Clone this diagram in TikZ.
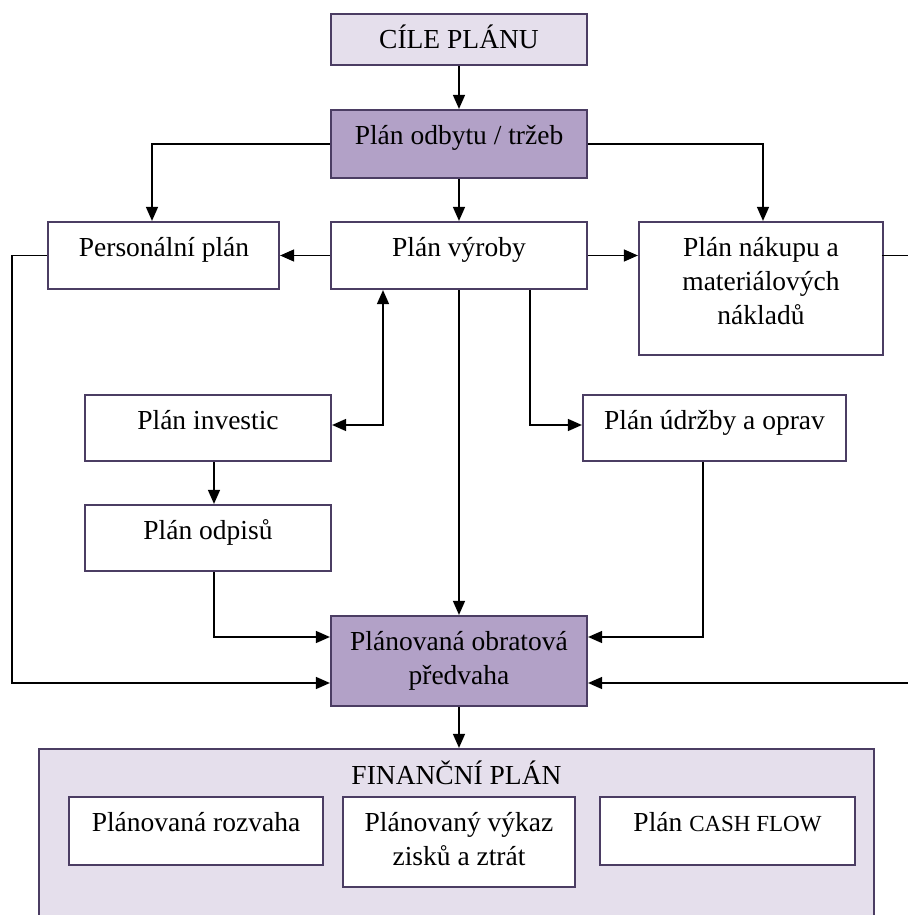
\documentclass[tikz,border=0pt]{standalone}
\usepackage{fontspec}
\setmainfont{Liberation Serif}
\usetikzlibrary{arrows.meta}
\definecolor{lightlav}{HTML}{E5DFEC}
\definecolor{darklav}{HTML}{B2A1C7}
\definecolor{boxline}{HTML}{4B3D63}
\begin{document}
\begin{tikzpicture}[x=1pt,y=-1pt,
  box/.style={draw=boxline, line width=2.2pt, rectangle, inner sep=0pt, fill=white},
  lbl/.style={anchor=base, align=center, inner sep=0pt, font=\fontsize{27.5}{34}\selectfont},
  conn/.style={line width=1.4pt, -{Triangle[length=14pt,width=12pt]}},
  both/.style={line width=1.4pt, {Triangle[length=14pt,width=12pt]}-{Triangle[length=14pt,width=12pt]}}]
\useasboundingbox (0,0) rectangle (907,915);

% boxes
\node[box, fill=lightlav, minimum width=256, minimum height=51] (goal) at (459,39.5) {};
\node[box, fill=darklav, minimum width=256, minimum height=68] (sales) at (459,144) {};
\node[box, minimum width=231, minimum height=67] (staff) at (163.5,255.5) {};
\node[box, minimum width=256, minimum height=67] (prod) at (459,255.5) {};
\node[box, minimum width=244, minimum height=133] (purch) at (761,288.5) {};
\node[box, minimum width=246, minimum height=66] (invest) at (208,428) {};
\node[box, minimum width=246, minimum height=66] (depr) at (208,538) {};
\node[box, minimum width=263, minimum height=66] (maint) at (714.5,428) {};
\node[box, fill=darklav, minimum width=256, minimum height=90] (wc) at (459,661) {};
\node[box, fill=lightlav, minimum width=835, minimum height=176] (fin) at (456.5,837) {};
\node[box, minimum width=254, minimum height=68] (bal) at (196,831) {};
\node[box, minimum width=232, minimum height=90] (pl) at (459,842) {};
\node[box, minimum width=255, minimum height=68] (cf) at (727.5,831) {};

% texts (base anchor sits on the last line)
\node[lbl] (goalT) at (459,48.5) {CÍLE PLÁNU};
\node[lbl] (salesT) at (459,144.5) {Plán odbytu / tržeb};
\node[lbl] (staffT) at (164,256.5) {Personální plán};
\node[lbl] (prodT) at (459,256.5) {Plán výroby};
\node[lbl] (purchT) at (761,324.5) {Plán nákupu a\\materiálových\\nákladů};
\node[lbl] (investT) at (208,429.5) {Plán investic};
\node[lbl] (deprT) at (208,539.5) {Plán odpisů};
\node[lbl] (maintT) at (714.5,429.5) {Plán údržby a oprav};
\node[lbl] (wcT) at (459,684.5) {Plánovaná obratová\\předvaha};
\node[lbl] (finT) at (456.5,784.5) {FINANČNÍ PLÁN};
\node[lbl] (balT) at (196,831.5) {Plánovaná rozvaha};
\node[lbl] (plT) at (459,865.5) {Plánovaný výkaz\\zisků a ztrát};
\node[lbl] (cfT) at (727.5,831.5) {Plán {\fontsize{23}{34}\selectfont CASH FLOW}};

% bus lines and entry points
\coordinate (leftbus) at (12,0);
\coordinate (rightbus) at (914,0);
\coordinate (wcWhigh) at ([yshift=24pt]wc.west);
\coordinate (wcWlow) at ([yshift=-22pt]wc.west);
\coordinate (wcEhigh) at ([yshift=24pt]wc.east);
\coordinate (wcElow) at ([yshift=-22pt]wc.east);

% connectors
\draw[conn] (goal) -- (sales);
\draw[conn] (sales.west) -| ([xshift=-11.5pt]staff.north);
\draw[conn] (sales.east) -| ([xshift=2pt]purch.north);
\draw[conn] (sales) -- (prod);
\draw[conn] (prod.west) -- (staff.east);
\draw[conn] (prod.east) -- (prod.east -| purch.west);
\draw[conn] (purch.west |- prod.east) ++(244,0) -| (rightbus |- wcElow) -- (wcElow);
\draw[conn] (staff.west) -| (leftbus |- wcWlow) -- (wcWlow);
\draw[both] ([xshift=-76pt]prod.south) |- ([yshift=3pt]invest.east);
\draw[conn] ([xshift=71pt]prod.south) |- ([yshift=3pt]maint.west);
\draw[conn] (prod) -- (wc);
\draw[conn] ([xshift=6pt]invest.south) -- ([xshift=6pt]depr.north);
\draw[conn] ([xshift=6pt]depr.south) |- (wcWhigh);
\draw[conn] ([xshift=-11.5pt]maint.south) |- (wcEhigh);
\draw[conn] (wc.south) -- (wc.south |- fin.north);
\end{tikzpicture}
\end{document}
